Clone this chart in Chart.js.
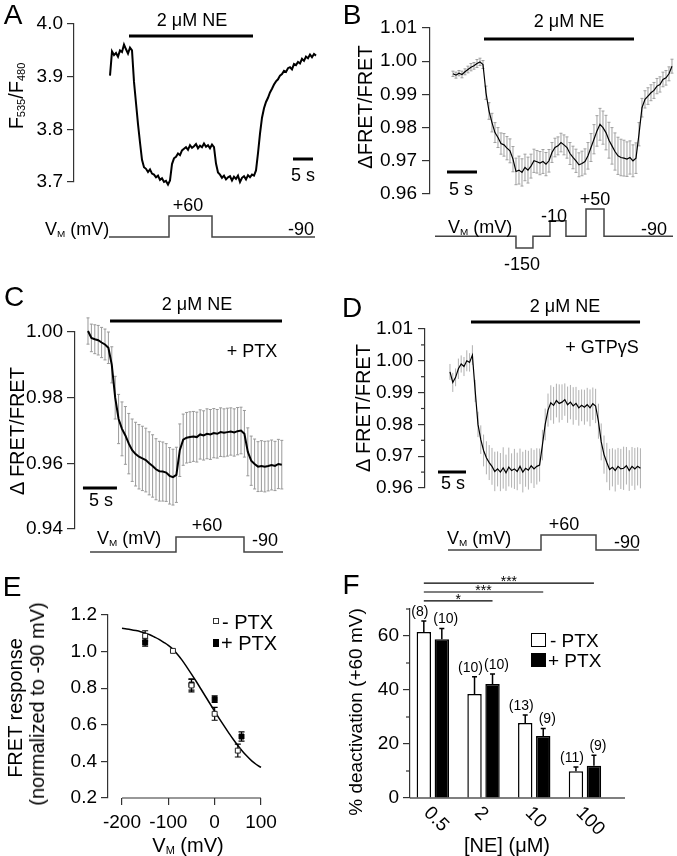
<!DOCTYPE html>
<html>
<head>
<meta charset="utf-8">
<script src="https://cdn.jsdelivr.net/npm/chart.js@4.4.0/dist/chart.umd.min.js"></script>
<style>
html, body { margin: 0; padding: 0; background: #fff; }
#fig { position: relative; width: 677px; height: 856px; overflow: hidden; font-family: "Liberation Sans", Arial, sans-serif; color: #000; }
#fig canvas { position: absolute; }
.t { position: absolute; white-space: nowrap; line-height: 1; transform: translate(-50%, -50%); }
.lt { position: absolute; white-space: nowrap; line-height: 1; transform: translate(0, -50%); }
.rot { position: absolute; white-space: nowrap; line-height: 1; transform: translate(-50%, -50%) rotate(-90deg); }
.pl { font-size: 28px; }
.s18 { font-size: 18px; }
.s19 { font-size: 19px; }
.s20 { font-size: 20px; }
sub { font-size: 55%; vertical-align: -0.2em; line-height: 0; }
.box { position: absolute; box-sizing: border-box; }
</style>
</head>
<body>
<div id="fig">
  <canvas id="cA" width="330" height="200" style="left:0;top:0"></canvas>
  <canvas id="pA" width="330" height="50" style="left:0;top:200px"></canvas>
  <canvas id="cB" width="339" height="215" style="left:338px;top:0"></canvas>
  <canvas id="pB" width="339" height="60" style="left:338px;top:200px"></canvas>
  <canvas id="cC" width="300" height="250" style="left:0;top:300px"></canvas>
  <canvas id="pC" width="300" height="40" style="left:0;top:520px"></canvas>
  <canvas id="cD" width="339" height="210" style="left:338px;top:300px"></canvas>
  <canvas id="pD" width="339" height="35" style="left:338px;top:525px"></canvas>
  <canvas id="cE" width="300" height="286" style="left:0;top:570px"></canvas>
  <canvas id="cF" width="339" height="286" style="left:338px;top:570px"></canvas>

  <!-- panel letters -->
  <div class="t pl" style="left:13px;top:15px">A</div>
  <div class="t pl" style="left:352px;top:15px">B</div>
  <div class="t pl" style="left:14px;top:297px">C</div>
  <div class="t pl" style="left:352px;top:308px">D</div>
  <div class="t pl" style="left:12px;top:587px">E</div>
  <div class="t pl" style="left:351px;top:585px">F</div>

  <!-- A -->
  <div class="t s18" style="left:192px;top:20px">2 μM NE</div>
  <div class="t s18" style="left:303px;top:175px">5 s</div>
  <div class="t s18" style="left:188px;top:205px">+60</div>
  <div class="lt s18" style="left:45px;top:229px">V<sub>M</sub> (mV)</div>
  <div class="t s18" style="left:301px;top:229px">-90</div>
  <div class="rot s20" style="left:16px;top:96px">F<sub>535</sub>/F<sub>480</sub></div>

  <!-- B -->
  <div class="t s18" style="left:569px;top:21px">2 μM NE</div>
  <div class="t s18" style="left:461px;top:189px">5 s</div>
  <div class="lt s18" style="left:448px;top:227px">V<sub>M</sub> (mV)</div>
  <div class="t s18" style="left:522px;top:264px">-150</div>
  <div class="t s18" style="left:554px;top:216px">-10</div>
  <div class="t s18" style="left:595px;top:199px">+50</div>
  <div class="t s18" style="left:654px;top:229px">-90</div>
  <div class="rot s20" style="left:365px;top:107px">ΔFRET/FRET</div>

  <!-- C -->
  <div class="t s18" style="left:197px;top:304px">2 μM NE</div>
  <div class="t s18" style="left:252px;top:351px">+ PTX</div>
  <div class="t s18" style="left:101px;top:500px">5 s</div>
  <div class="lt s18" style="left:97px;top:538px">V<sub>M</sub> (mV)</div>
  <div class="t s18" style="left:207px;top:525px">+60</div>
  <div class="t s18" style="left:265px;top:540px">-90</div>
  <div class="rot s20" style="left:17px;top:431px">Δ FRET/FRET</div>

  <!-- D -->
  <div class="t s18" style="left:565px;top:306px">2 μM NE</div>
  <div class="t s18" style="left:602px;top:347px">+ GTPγS</div>
  <div class="t s18" style="left:453px;top:483px">5 s</div>
  <div class="lt s18" style="left:447px;top:538px">V<sub>M</sub> (mV)</div>
  <div class="t s18" style="left:564px;top:524px">+60</div>
  <div class="t s18" style="left:627px;top:542px">-90</div>
  <div class="rot s20" style="left:363px;top:408px">Δ FRET/FRET</div>

  <!-- E -->
  <div class="box" style="left:213px;top:618px;width:6px;height:6px;border:1px solid #333;background:#fff"></div>
  <div class="lt s20" style="left:222px;top:622px">- PTX</div>
  <div class="box" style="left:213px;top:639px;width:6px;height:8px;background:#000"></div>
  <div class="lt s20" style="left:221px;top:643px">+ PTX</div>
  <div class="t s20" style="left:188px;top:845px">V<sub>M</sub> (mV)</div>
  <div class="rot s20" style="left:15px;top:708px">FRET response</div>
  <div class="rot s20" style="left:37px;top:704px">(normalized to -90 mV)</div>

  <!-- F -->
  <div class="box" style="left:531px;top:633px;width:15px;height:14px;border:1.5px solid #000;background:#fff"></div>
  <div class="lt s19" style="left:550px;top:640px">- PTX</div>
  <div class="box" style="left:531px;top:653px;width:15px;height:14px;background:#000"></div>
  <div class="lt s19" style="left:548px;top:660px">+ PTX</div>
  <div class="t s20" style="left:507px;top:845px">[NE] (μM)</div>
  <div class="rot s19" style="left:355px;top:712px">% deactivation (+60 mV)</div>
</div>

<script>
Chart.defaults.font.family = '"Liberation Sans", Arial, sans-serif';
Chart.defaults.color = '#000';

// A: F535/F480 trace, sampled every 0.5 s
const A_DT = 0.5;
const aSignal = [
  3.902, 3.948, 3.941, 3.945, 3.938, 3.950, 3.947, 3.961, 3.952, 3.944,
  3.955, 3.950, 3.890, 3.850, 3.810, 3.775, 3.742, 3.728, 3.725, 3.719,
  3.724, 3.716, 3.714, 3.709, 3.712, 3.704, 3.707, 3.700, 3.702, 3.695,
  3.703, 3.734, 3.745, 3.748, 3.754, 3.751, 3.760, 3.763, 3.766, 3.761,
  3.770, 3.765, 3.768, 3.772, 3.764, 3.769, 3.766, 3.773, 3.767, 3.770,
  3.764, 3.771, 3.766, 3.735, 3.718, 3.714, 3.708, 3.712, 3.705, 3.709,
  3.711, 3.703, 3.710, 3.706, 3.712, 3.700, 3.708, 3.711, 3.705, 3.713,
  3.709, 3.714, 3.712, 3.722, 3.755, 3.792, 3.822, 3.840, 3.852, 3.860,
  3.870, 3.877, 3.885, 3.891, 3.895, 3.902, 3.905, 3.911, 3.909, 3.916,
  3.918, 3.914, 3.924, 3.922, 3.928, 3.925, 3.934, 3.930, 3.938, 3.935,
  3.942, 3.937, 3.943, 3.940
];
const aTicks = [3.7, 3.8, 3.9, 4.0];
const aNE = [4.75, 35.75], aScaleBar = [45.75, 50.75];
const aProtoT = [-0.25, 14.75, 25.5, 51.25], aProtoV = [-90, 60, -90, -90];

// B: mean +- SEM, 0.5 s
const B_DT = 0.5;
const bSignal = [
  0.9962, 0.9958, 0.9964, 0.9960, 0.9968, 0.9975, 0.9982, 0.9986, 0.9993, 0.9998,
  0.9990, 0.9905, 0.9850, 0.9815, 0.9785, 0.9770, 0.9752, 0.9748, 0.9738, 0.9730,
  0.9705, 0.9668, 0.9672, 0.9665, 0.9680, 0.9672, 0.9684, 0.9700, 0.9697, 0.9693,
  0.9698, 0.9690, 0.9700, 0.9725, 0.9740, 0.9745, 0.9755, 0.9748, 0.9740, 0.9722,
  0.9710, 0.9700, 0.9688, 0.9692, 0.9698, 0.9715, 0.9740, 0.9765, 0.9790, 0.9810,
  0.9800, 0.9785, 0.9762, 0.9745, 0.9728, 0.9715, 0.9710, 0.9708, 0.9705, 0.9710,
  0.9700, 0.9708, 0.9780, 0.9860, 0.9885, 0.9895, 0.9905, 0.9912, 0.9925, 0.9930,
  0.9945, 0.9950, 0.9962, 0.9985
];
const bSem = [
  0.0008, 0.0009, 0.0008, 0.0010, 0.0009, 0.0010, 0.0011, 0.0010, 0.0012, 0.0011, 0.0012,
  0.0020, 0.0025, 0.0028, 0.0030, 0.0030, 0.0032, 0.0034, 0.0035, 0.0036,
  0.0038, 0.0040, 0.0042, 0.0041, 0.0040, 0.0039, 0.0036, 0.0035, 0.0034, 0.0035, 0.0036, 0.0035,
  0.0034, 0.0030, 0.0028, 0.0027, 0.0028, 0.0030, 0.0032, 0.0033, 0.0034, 0.0035, 0.0036, 0.0037,
  0.0038, 0.0040, 0.0042, 0.0044, 0.0046, 0.0048, 0.0050, 0.0052, 0.0054, 0.0055, 0.0056, 0.0056,
  0.0055, 0.0054, 0.0052, 0.0050, 0.0048, 0.0046,
  0.0035, 0.0028, 0.0026, 0.0025, 0.0024, 0.0024, 0.0023, 0.0023, 0.0022, 0.0022, 0.0021, 0.0021
];
const bTicks = [0.96, 0.97, 0.98, 0.99, 1.00, 1.01];
const bNE = [5.17, 30.17], bScaleBar = [-1, 4];
const bProtoT = [-3, 10.5, 13.33, 16.17, 18.83, 22.17, 25.17, 36.67];
const bProtoV = [-90, -150, -90, -10, -90, 50, -90, -90];

// C: + PTX
const C_DT = 0.5;
const cSignal = [
  1.0003, 0.9982, 0.9978, 0.9975, 0.9968, 0.9962, 0.9952, 0.9900, 0.9800, 0.9735,
  0.9705, 0.9685, 0.9660, 0.9640, 0.9628, 0.9620, 0.9615, 0.9610, 0.9600, 0.9592,
  0.9582, 0.9576, 0.9575, 0.9572, 0.9562, 0.9558, 0.9565, 0.9640, 0.9672, 0.9678,
  0.9680, 0.9682, 0.9680, 0.9688, 0.9685, 0.9690, 0.9688, 0.9692, 0.9690, 0.9695,
  0.9693, 0.9695, 0.9697, 0.9694, 0.9698, 0.9700, 0.9690, 0.9635, 0.9608, 0.9598,
  0.9590, 0.9592, 0.9590, 0.9592, 0.9595, 0.9592, 0.9598, 0.9596
];
const cSem = [
  0.0040, 0.0042, 0.0044, 0.0045, 0.0046, 0.0047, 0.0048,
  0.0055, 0.0065, 0.0075, 0.0082, 0.0088, 0.0092, 0.0095,
  0.0097, 0.0098, 0.0098, 0.0097, 0.0096, 0.0095, 0.0093, 0.0091, 0.0090, 0.0088, 0.0086, 0.0085, 0.0084,
  0.0080, 0.0078, 0.0077, 0.0077, 0.0076, 0.0076, 0.0075, 0.0075, 0.0076, 0.0076,
  0.0075, 0.0074, 0.0074, 0.0073, 0.0073, 0.0072, 0.0072, 0.0072, 0.0071, 0.0071,
  0.0073, 0.0075, 0.0076, 0.0076, 0.0077, 0.0077, 0.0076, 0.0076, 0.0075, 0.0075, 0.0074
];
const cTicks = [0.94, 0.96, 0.98, 1.00];
const cNE = [3.24, 28.53], cScaleBar = [-0.74, 4.26];
const cProtoT = [0.3, 12.94, 22.94, 28.68], cProtoV = [-90, 60, -90, -90];

// D: + GTPgS
const D_DT = 0.5;
const dSignal = [
  0.9965, 0.9932, 0.9948, 0.9975, 0.9990, 0.9982, 1.0000, 0.9995, 1.0018, 0.9905,
  0.9800, 0.9752, 0.9718, 0.9695, 0.9680, 0.9668, 0.9652, 0.9660, 0.9650, 0.9663,
  0.9648, 0.9666, 0.9655, 0.9660, 0.9652, 0.9668, 0.9650, 0.9662, 0.9656, 0.9670,
  0.9660, 0.9668, 0.9672, 0.9735, 0.9800, 0.9845, 0.9868, 0.9860, 0.9875, 0.9866,
  0.9870, 0.9878, 0.9862, 0.9870, 0.9858, 0.9866, 0.9852, 0.9860, 0.9854, 0.9862,
  0.9852, 0.9865, 0.9858, 0.9810, 0.9745, 0.9705, 0.9680, 0.9658, 0.9665, 0.9655,
  0.9668, 0.9660, 0.9662, 0.9670, 0.9655, 0.9668, 0.9660, 0.9668, 0.9662
];
const dSem = [
  0.0025, 0.0030, 0.0028, 0.0032, 0.0027, 0.0030, 0.0033, 0.0029, 0.0031,
  0.0035, 0.0040, 0.0045, 0.0050, 0.0052, 0.0055,
  0.0058, 0.0062, 0.0055, 0.0060, 0.0065, 0.0057, 0.0061, 0.0054, 0.0063,
  0.0059, 0.0056, 0.0064, 0.0058, 0.0061, 0.0055, 0.0060, 0.0057, 0.0052,
  0.0048, 0.0050, 0.0052, 0.0055, 0.0058, 0.0053, 0.0060, 0.0056, 0.0051, 0.0057,
  0.0054, 0.0059, 0.0052, 0.0056, 0.0050, 0.0055, 0.0053, 0.0058, 0.0051, 0.0054,
  0.0055, 0.0058, 0.0060, 0.0062, 0.0065, 0.0060, 0.0066, 0.0058,
  0.0063, 0.0068, 0.0059, 0.0064, 0.0061, 0.0066, 0.0060, 0.0063
];
const dTicks = [0.96, 0.97, 0.98, 0.99, 1.00, 1.01];
const dNE = [3.75, 33.93], dScaleBar = [-2.14, 2.86];
const dProtoT = [-0.36, 16.25, 26.07, 33.75], dProtoV = [-90, 60, -90, -90];

// E: voltage dependence
const eOpenV = [-150, -90, -50, 0, 50];
const eOpen = [1.086, 1.004, 0.815, 0.660, 0.459];
const eOpenSem = [0.028, 0, 0.035, 0.035, 0.035];
const eFilledV = [-150, -50, 0, 58];
const eFilled = [1.050, 0.820, 0.740, 0.536];
const eFilledSem = [0.020, 0.030, 0.018, 0.025];
const eFitV = [-200, -190, -180, -170, -160, -150, -140, -130, -120, -110, -100, -90, -80, -70, -60, -50,
  -40, -30, -20, -10, 0, 10, 20, 30, 40, 50, 60, 70, 80, 90, 100];
const eFit = [1.127, 1.124, 1.120, 1.115, 1.109, 1.101, 1.092, 1.080, 1.067, 1.051, 1.034, 1.013, 0.984,
  0.952, 0.915, 0.877, 0.838, 0.797, 0.756, 0.715, 0.674, 0.634, 0.595, 0.557, 0.521, 0.487, 0.456,
  0.428, 0.403, 0.383, 0.367];
const eYTicks = [0.2, 0.4, 0.6, 0.8, 1.0, 1.2];
const eXTicks = [-200, -100, 0, 100];

// F: % deactivation
const fCats = ['0.5', '2', '10', '100'];
const fMinus = [61.5, 38.5, 27.8, 9.9];
const fMinusSem = [4.1, 6.4, 2.9, 1.6];
const fMinusN = [8, 10, 13, 11];
const fPlus = [58.8, 42.2, 23.0, 11.9];
const fPlusSem = [4.0, 3.7, 2.7, 3.9];
const fPlusN = [10, 10, 9, 9];
const fYTicks = [0, 20, 40, 60];
const fSigFrom = [0, 0, 0], fSigTo = [1, 2, 3];
const fSigLevel = [73, 76.3, 79.6];
const fSigStars = ['*', '***', '***'];

// error bars from dataset.err
const errorBars = {
    id: 'errorBars',
    beforeDatasetsDraw(chart) {
        const ctx = chart.ctx;
        const ys = chart.scales.y;
        chart.data.datasets.forEach((ds, di) => {
            if (!ds.err) return;
            const meta = chart.getDatasetMeta(di);
            ctx.save();
            ctx.strokeStyle = ds.errColor || '#000';
            ctx.lineWidth = ds.errWidth || 1;
            const c = (ds.errCap || 0) / 2;
            meta.data.forEach((el, i) => {
                const e = ds.err[i];
                if (!e) return;
                const v = ds.data[i].y;
                const top = ys.getPixelForValue(v + e);
                const bot = ds.errUp ? el.y : ys.getPixelForValue(v - e);
                ctx.beginPath();
                ctx.moveTo(el.x, top);
                ctx.lineTo(el.x, bot);
                if (c) {
                    ctx.moveTo(el.x - c, top);
                    ctx.lineTo(el.x + c, top);
                    if (!ds.errUp) {
                        ctx.moveTo(el.x - c, bot);
                        ctx.lineTo(el.x + c, bot);
                    }
                }
                ctx.stroke();
            });
            ctx.restore();
        });
    }
};

// NE application bar + 5 s scale bar
function stim(ne, neOff, bar, barOff) {
    return {
        id: 'stim',
        afterDatasetsDraw(chart) {
            const { ctx, chartArea, scales: { x } } = chart;
            ctx.save();
            ctx.strokeStyle = '#000';
            ctx.lineWidth = 3;
            [[ne, neOff], [bar, barOff]].forEach(([r, off]) => {
                const y = chartArea.top + off;
                ctx.beginPath();
                ctx.moveTo(x.getPixelForValue(r[0]), y);
                ctx.lineTo(x.getPixelForValue(r[1]), y);
                ctx.stroke();
            });
            ctx.restore();
        }
    };
}

function minorTicks(len, extra) {
    return {
        id: 'minorTicks',
        afterDraw(chart) {
            const s = chart.scales.y, ctx = chart.ctx;
            const vals = s.ticks.map(t => t.value);
            const mids = [];
            for (let i = 1; i < vals.length; i++) mids.push((vals[i - 1] + vals[i]) / 2);
            (extra || []).forEach(v => mids.push(v));
            ctx.save();
            ctx.strokeStyle = '#333';
            ctx.lineWidth = 1.2;
            mids.forEach(v => {
                const py = s.getPixelForValue(v);
                ctx.beginPath();
                ctx.moveTo(s.right - len, py);
                ctx.lineTo(s.right, py);
                ctx.stroke();
            });
            ctx.restore();
        }
    };
}

function yAxis(ticks, dec, w, len, pad, max) {
    return {
        min: ticks[0],
        max: max !== undefined ? max : ticks[ticks.length - 1],
        afterFit: s => { s.width = w; },
        afterBuildTicks: s => { s.ticks = ticks.map(v => ({ value: v })); },
        ticks: { callback: v => v.toFixed(dec), font: { size: 19 }, color: '#000', padding: pad },
        grid: { drawOnChartArea: false, tickLength: len, color: '#333', lineWidth: 1.2 },
        border: { color: '#333', width: 1.2 }
    };
}

const base = {
    responsive: false,
    animation: false,
    devicePixelRatio: 1,
    events: []
};

function traceChart(id, o) {
    const pts = o.signal.map((v, i) => ({ x: i * o.dt, y: v }));
    const plugins = [errorBars, stim(o.ne, o.neOff, o.bar, o.barOff)];
    if (o.minor) plugins.push(minorTicks(4));
    return new Chart(document.getElementById(id), {
        type: 'line',
        data: {
            datasets: [{
                data: pts, borderColor: '#000', borderWidth: o.lw, pointRadius: 0, clip: false,
                err: o.sem, errColor: o.errColor, errCap: o.cap, errWidth: 1
            }]
        },
        options: {
            ...base,
            layout: { padding: o.pad },
            plugins: { legend: { display: false }, tooltip: { enabled: false } },
            scales: {
                x: { type: 'linear', display: false, min: o.xMin, max: o.xMax },
                y: yAxis(o.ticks, o.dec, o.axisW, o.tickLen, o.tickPad)
            }
        },
        plugins: plugins
    });
}

function protoChart(id, t, v, o) {
    return new Chart(document.getElementById(id), {
        type: 'line',
        data: {
            datasets: [{
                data: t.map((x, i) => ({ x: x, y: v[i] })),
                stepped: 'before', borderColor: '#444', borderWidth: 1.5, pointRadius: 0, clip: false
            }]
        },
        options: {
            ...base,
            layout: { padding: o.pad },
            plugins: { legend: { display: false }, tooltip: { enabled: false } },
            scales: {
                x: { type: 'linear', display: false, min: o.xMin, max: o.xMax },
                y: { display: false, min: o.yMin, max: o.yMax }
            }
        }
    });
}

/* A */
traceChart('cA', {
    signal: aSignal, dt: A_DT, lw: 2, ticks: aTicks, dec: 1, axisW: 74, tickLen: 7, tickPad: 4,
    pad: { left: 0, right: 10, top: 24, bottom: 18 }, xMin: -9, xMax: 52.5,
    ne: aNE, neOff: 12, bar: aScaleBar, barOff: 135
});
protoChart('pA', aProtoT, aProtoV, { pad: { left: 74, right: 10, top: 16, bottom: 13 }, xMin: -9, xMax: 52.5, yMin: -90, yMax: 60 });

/* B */
traceChart('cB', {
    signal: bSignal, sem: bSem, errColor: '#a0a0a0', cap: 3, dt: B_DT, lw: 1.2, ticks: bTicks, dec: 2,
    axisW: 92, tickLen: 8, tickPad: 5, pad: { left: 0, right: 1, top: 28, bottom: 21 }, xMin: -3.83, xMax: 37.17,
    ne: bNE, neOff: 11, bar: bScaleBar, barOff: 144
});
protoChart('pB', bProtoT, bProtoV, { pad: { left: 92, right: 1, top: 9, bottom: 12 }, xMin: -3.83, xMax: 37.17, yMin: -150, yMax: 50 });

/* C */
traceChart('cC', {
    signal: cSignal, sem: cSem, errColor: '#999', cap: 3, dt: C_DT, lw: 2, ticks: cTicks, dec: 2,
    axisW: 75, tickLen: 8, tickPad: 4, pad: { left: 0, right: 15, top: 32, bottom: 21 }, xMin: -1.91, xMax: 28.97,
    ne: cNE, neOff: -11, bar: cScaleBar, barOff: 156
});
protoChart('pC', cProtoT, cProtoV, { pad: { left: 75, right: 15, top: 17, bottom: 8 }, xMin: -1.91, xMax: 28.97, yMin: -90, yMax: 60 });

/* D */
traceChart('cD', {
    signal: dSignal, sem: dSem, errColor: '#b0b0b0', cap: 0, dt: D_DT, lw: 1.2, ticks: dTicks, dec: 2,
    axisW: 87, tickLen: 7, tickPad: 5, pad: { left: 0, right: 34, top: 29, bottom: 22 }, xMin: -4.46, xMax: 34.46,
    ne: dNE, neOff: -7, bar: dScaleBar, barOff: 143, minor: true
});
protoChart('pD', dProtoT, dProtoV, { pad: { left: 87, right: 34, top: 10, bottom: 10 }, xMin: -4.46, xMax: 34.46, yMin: -90, yMax: 60 });

/* E */
const eAxisLine = {
    id: 'eAxisLine',
    afterDraw(chart) {
        const { ctx, chartArea, scales: { x } } = chart;
        ctx.save();
        ctx.strokeStyle = '#333';
        ctx.lineWidth = 1.2;
        ctx.beginPath();
        ctx.moveTo(x.getPixelForValue(eXTicks[0]), chartArea.bottom);
        ctx.lineTo(x.getPixelForValue(eXTicks[eXTicks.length - 1]), chartArea.bottom);
        ctx.stroke();
        ctx.restore();
    }
};
new Chart(document.getElementById('cE'), {
    type: 'line',
    data: {
        datasets: [
            {
                data: eOpenV.map((v, i) => ({ x: v, y: eOpen[i] })), showLine: false,
                pointStyle: 'rect', pointRadius: 3.5, pointBackgroundColor: '#fff', pointBorderColor: '#222', pointBorderWidth: 1,
                err: eOpenSem, errCap: 6, errColor: '#000', errWidth: 1.2
            },
            {
                data: eFilledV.map((v, i) => ({ x: v, y: eFilled[i] })), showLine: false,
                pointStyle: 'rect', pointRadius: 3.5, pointBackgroundColor: '#000', pointBorderColor: '#000', pointBorderWidth: 1,
                err: eFilledSem, errCap: 6, errColor: '#000', errWidth: 1.2
            },
            {
                data: eFitV.map((v, i) => ({ x: v, y: eFit[i] })), borderColor: '#000', borderWidth: 1.5,
                pointRadius: 0, cubicInterpolationMode: 'monotone', clip: false
            }
        ]
    },
    options: {
        ...base,
        layout: { padding: { left: 0, right: 36.7, top: 45, bottom: 0 } },
        plugins: { legend: { display: false }, tooltip: { enabled: false } },
        scales: {
            x: {
                type: 'linear', min: -230.2, max: 105,
                afterFit: s => { s.height = 58; },
                afterBuildTicks: s => { s.ticks = eXTicks.map(v => ({ value: v })); },
                ticks: { font: { size: 19 }, color: '#000', padding: 6, autoSkip: false, maxRotation: 0, callback: v => String(v) },
                grid: { drawOnChartArea: false, tickLength: 7, color: '#333', lineWidth: 1.2 },
                border: { display: false }
            },
            y: yAxis(eYTicks, 1, 108, 7, 4)
        }
    },
    plugins: [errorBars, eAxisLine]
});

/* F */
const fExtras = {
    id: 'fExtras',
    afterDatasetsDraw(chart) {
        const { ctx, chartArea: ca, scales: { x, y } } = chart;
        const m0 = chart.getDatasetMeta(0), m1 = chart.getDatasetMeta(1);
        ctx.save();
        ctx.strokeStyle = '#000';
        ctx.fillStyle = '#000';
        ctx.lineWidth = 1.2;
        // x axis line
        ctx.beginPath();
        ctx.moveTo(ca.left, ca.bottom);
        ctx.lineTo(ca.right, ca.bottom);
        ctx.stroke();
        // significance brackets
        ctx.font = '14px "Liberation Sans", Arial, sans-serif';
        ctx.textAlign = 'center';
        ctx.textBaseline = 'alphabetic';
        fSigLevel.forEach((lv, k) => {
            const yy = y.getPixelForValue(lv);
            const x0 = m0.data[fSigFrom[k]].x, x1 = m1.data[fSigTo[k]].x;
            ctx.beginPath();
            ctx.moveTo(x0, yy);
            ctx.lineTo(x1, yy);
            ctx.stroke();
            ctx.fillText(fSigStars[k], (x0 + x1) / 2, yy + 3);
        });
        // n per bar
        ctx.textBaseline = 'bottom';
        [[m0, fMinus, fMinusSem, fMinusN, -4], [m1, fPlus, fPlusSem, fPlusN, 4]].forEach(([m, vals, sem, n, dx]) => {
            m.data.forEach((el, i) => {
                ctx.fillText('(' + n[i] + ')', el.x + dx, y.getPixelForValue(vals[i] + sem[i]) - 2);
            });
        });
        // rotated category labels
        ctx.font = '19px "Liberation Sans", Arial, sans-serif';
        ctx.textAlign = 'left';
        ctx.textBaseline = 'middle';
        fCats.forEach((c, i) => {
            ctx.save();
            ctx.translate(x.getPixelForValue(i) - 6, ca.bottom + 12);
            ctx.rotate(Math.PI / 4);
            ctx.fillText(c, 0, 0);
            ctx.restore();
        });
        ctx.restore();
    }
};
new Chart(document.getElementById('cF'), {
    type: 'bar',
    data: {
        datasets: [
            {
                label: '- PTX', data: fCats.map((c, i) => ({ x: i, y: fMinus[i] })),
                backgroundColor: '#fff', borderColor: '#000', borderWidth: 1.5,
                categoryPercentage: 0.71, barPercentage: 0.8,
                err: fMinusSem, errUp: true, errCap: 5, errWidth: 1.5, errColor: '#000'
            },
            {
                label: '+ PTX', data: fCats.map((c, i) => ({ x: i, y: fPlus[i] })),
                backgroundColor: '#000', borderColor: '#000', borderWidth: 1.5,
                categoryPercentage: 0.71, barPercentage: 0.8,
                err: fPlusSem, errUp: true, errCap: 5, errWidth: 1.5, errColor: '#000'
            }
        ]
    },
    options: {
        ...base,
        layout: { padding: { left: 0, right: 52, top: 39, bottom: 58 } },
        plugins: { legend: { display: false }, tooltip: { enabled: false } },
        scales: {
            x: {
                type: 'linear', display: false, offset: false, min: -0.45, max: 3.79,
                grid: { offset: false },
                afterBuildTicks: s => { s.ticks = fCats.map((c, i) => ({ value: i })); }
            },
            y: yAxis(fYTicks, 0, 72, 7, 4, 70)
        }
    },
    plugins: [errorBars, minorTicks(4, [70]), fExtras]
});
</script>
</body>
</html>
